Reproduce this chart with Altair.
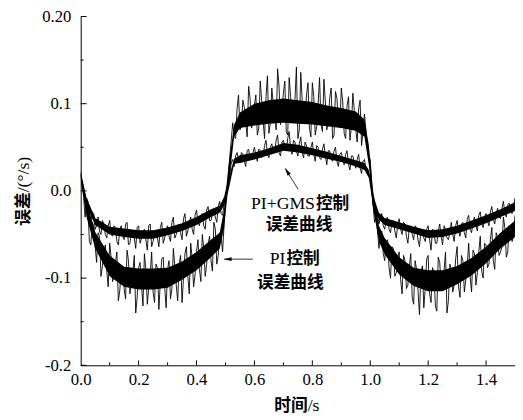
import altair as alt
import pandas as pd

# ---------------- data ----------------
time_s = [
    0.00, 0.01, 0.02, 0.03, 0.04, 0.05, 0.06, 0.07, 0.08, 0.09,
    0.10, 0.11, 0.12, 0.13, 0.14, 0.15, 0.16, 0.17, 0.18, 0.19,
    0.20, 0.21, 0.22, 0.23, 0.24, 0.25, 0.26, 0.27, 0.28, 0.29,
    0.30, 0.31, 0.32, 0.33, 0.34, 0.35, 0.36, 0.37, 0.38, 0.39,
    0.40, 0.41, 0.42, 0.43, 0.44, 0.45, 0.46, 0.47, 0.48, 0.49,
    0.50, 0.51, 0.52, 0.53, 0.54, 0.55, 0.56, 0.57, 0.58, 0.59,
    0.60, 0.61, 0.62, 0.63, 0.64, 0.65, 0.66, 0.67, 0.68, 0.69,
    0.70, 0.71, 0.72, 0.73, 0.74, 0.75, 0.76, 0.77, 0.78, 0.79,
    0.80, 0.81, 0.82, 0.83, 0.84, 0.85, 0.86, 0.87, 0.88, 0.89,
    0.90, 0.91, 0.92, 0.93, 0.94, 0.95, 0.96, 0.97, 0.98, 0.99,
    1.00, 1.01, 1.02, 1.03, 1.04, 1.05, 1.06, 1.07, 1.08, 1.09,
    1.10, 1.11, 1.12, 1.13, 1.14, 1.15, 1.16, 1.17, 1.18, 1.19,
    1.20, 1.21, 1.22, 1.23, 1.24, 1.25, 1.26, 1.27, 1.28, 1.29,
    1.30, 1.31, 1.32, 1.33, 1.34, 1.35, 1.36, 1.37, 1.38, 1.39,
    1.40, 1.41, 1.42, 1.43, 1.44, 1.45, 1.46, 1.47, 1.48, 1.49,
    1.50,
]

# PI control error (deg/s) at time_s
pi_err = [
    0.022, -0.006, -0.012, -0.058, -0.036, -0.064, -0.048, -0.098, -0.070, -0.092,
    -0.060, -0.104, -0.082, -0.126, -0.090, -0.112, -0.068, -0.118, -0.094, -0.140,
    -0.088, -0.108, -0.072, -0.130, -0.096, -0.116, -0.084, -0.136, -0.078, -0.110,
    -0.090, -0.124, -0.066, -0.108, -0.084, -0.128, -0.072, -0.098, -0.060, -0.110,
    -0.070, -0.090, -0.050, -0.098, -0.062, -0.080, -0.036, -0.084, -0.048, -0.070,
    -0.012, 0.014, 0.058, 0.062, 0.094, 0.070, 0.104, 0.078, 0.120, 0.072,
    0.098, 0.064, 0.126, 0.080, 0.108, 0.066, 0.118, 0.088, 0.140, 0.076,
    0.112, 0.068, 0.130, 0.084, 0.104, 0.060, 0.136, 0.080, 0.110, 0.072,
    0.124, 0.064, 0.100, 0.076, 0.128, 0.070, 0.106, 0.060, 0.114, 0.078,
    0.118, 0.066, 0.098, 0.058, 0.112, 0.070, 0.094, 0.052, 0.088, 0.050,
    0.036, -0.016, -0.028, -0.066, -0.046, -0.080, -0.056, -0.100, -0.066, -0.094,
    -0.070, -0.118, -0.080, -0.108, -0.072, -0.130, -0.090, -0.142, -0.086, -0.112,
    -0.074, -0.128, -0.094, -0.138, -0.082, -0.114, -0.070, -0.126, -0.090, -0.108,
    -0.064, -0.122, -0.080, -0.102, -0.060, -0.116, -0.072, -0.094, -0.052, -0.100,
    -0.062, -0.084, -0.042, -0.090, -0.054, -0.070, -0.030, -0.076, -0.040, -0.058,
    -0.028,
]

# PI+GMS control error (deg/s) at time_s
gms_err = [
    0.018, -0.002, -0.008, -0.030, -0.024, -0.044, -0.030, -0.050, -0.038, -0.054,
    -0.034, -0.052, -0.042, -0.062, -0.040, -0.056, -0.036, -0.060, -0.046, -0.066,
    -0.040, -0.054, -0.044, -0.068, -0.038, -0.058, -0.046, -0.064, -0.036, -0.054,
    -0.040, -0.058, -0.030, -0.050, -0.038, -0.056, -0.026, -0.046, -0.030, -0.050,
    -0.022, -0.040, -0.026, -0.044, -0.018, -0.034, -0.022, -0.036, -0.012, -0.028,
    -0.006, 0.006, 0.032, 0.028, 0.044, 0.032, 0.042, 0.028, 0.048, 0.036,
    0.050, 0.034, 0.046, 0.040, 0.058, 0.038, 0.054, 0.044, 0.064, 0.040,
    0.058, 0.046, 0.068, 0.042, 0.056, 0.040, 0.062, 0.038, 0.052, 0.040,
    0.056, 0.034, 0.050, 0.036, 0.054, 0.030, 0.046, 0.034, 0.050, 0.028,
    0.044, 0.030, 0.046, 0.024, 0.040, 0.026, 0.042, 0.020, 0.036, 0.022,
    0.014, -0.016, -0.020, -0.038, -0.026, -0.044, -0.030, -0.048, -0.034, -0.054,
    -0.032, -0.050, -0.038, -0.060, -0.040, -0.056, -0.042, -0.064, -0.044, -0.058,
    -0.040, -0.068, -0.046, -0.060, -0.038, -0.062, -0.044, -0.056, -0.036, -0.058,
    -0.034, -0.052, -0.036, -0.054, -0.028, -0.048, -0.030, -0.046, -0.024, -0.042,
    -0.026, -0.040, -0.018, -0.038, -0.020, -0.032, -0.012, -0.030, -0.014, -0.026,
    -0.008,
]

# in-between samples
time_b = [
    0.005, 0.015, 0.025, 0.035, 0.045, 0.055, 0.065, 0.075, 0.085, 0.095,
    0.105, 0.115, 0.125, 0.135, 0.145, 0.155, 0.165, 0.175, 0.185, 0.195,
    0.205, 0.215, 0.225, 0.235, 0.245, 0.255, 0.265, 0.275, 0.285, 0.295,
    0.305, 0.315, 0.325, 0.335, 0.345, 0.355, 0.365, 0.375, 0.385, 0.395,
    0.405, 0.415, 0.425, 0.435, 0.445, 0.455, 0.465, 0.475, 0.485, 0.495,
    0.505, 0.515, 0.525, 0.535, 0.545, 0.555, 0.565, 0.575, 0.585, 0.595,
    0.605, 0.615, 0.625, 0.635, 0.645, 0.655, 0.665, 0.675, 0.685, 0.695,
    0.705, 0.715, 0.725, 0.735, 0.745, 0.755, 0.765, 0.775, 0.785, 0.795,
    0.805, 0.815, 0.825, 0.835, 0.845, 0.855, 0.865, 0.875, 0.885, 0.895,
    0.905, 0.915, 0.925, 0.935, 0.945, 0.955, 0.965, 0.975, 0.985, 0.995,
    1.005, 1.015, 1.025, 1.035, 1.045, 1.055, 1.065, 1.075, 1.085, 1.095,
    1.105, 1.115, 1.125, 1.135, 1.145, 1.155, 1.165, 1.175, 1.185, 1.195,
    1.205, 1.215, 1.225, 1.235, 1.245, 1.255, 1.265, 1.275, 1.285, 1.295,
    1.305, 1.315, 1.325, 1.335, 1.345, 1.355, 1.365, 1.375, 1.385, 1.395,
    1.405, 1.415, 1.425, 1.435, 1.445, 1.455, 1.465, 1.475, 1.485, 1.495,
]
pi_err_b = [
    0.004, -0.030, -0.020, -0.062, -0.040, -0.082, -0.052, -0.086, -0.062, -0.110,
    -0.076, -0.098, -0.070, -0.114, -0.086, -0.124, -0.080, -0.106, -0.074, -0.122,
    -0.082, -0.132, -0.090, -0.112, -0.070, -0.128, -0.088, -0.104, -0.076, -0.134,
    -0.080, -0.112, -0.086, -0.126, -0.074, -0.100, -0.064, -0.118, -0.078, -0.096,
    -0.056, -0.104, -0.066, -0.084, -0.052, -0.092, -0.044, -0.074, -0.052, -0.040,
    0.000, 0.040, 0.078, 0.060, 0.110, 0.074, 0.096, 0.062, 0.106, 0.080,
    0.110, 0.072, 0.104, 0.060, 0.132, 0.078, 0.100, 0.070, 0.120, 0.090,
    0.126, 0.064, 0.108, 0.078, 0.142, 0.070, 0.104, 0.086, 0.124, 0.062,
    0.108, 0.074, 0.130, 0.068, 0.102, 0.080, 0.118, 0.064, 0.106, 0.072,
    0.102, 0.060, 0.108, 0.074, 0.092, 0.056, 0.104, 0.068, 0.070, 0.040,
    0.006, -0.036, -0.044, -0.050, -0.072, -0.058, -0.088, -0.064, -0.098, -0.076,
    -0.102, -0.074, -0.112, -0.086, -0.122, -0.080, -0.114, -0.094, -0.134, -0.078,
    -0.118, -0.088, -0.132, -0.076, -0.110, -0.092, -0.140, -0.084, -0.116, -0.078,
    -0.110, -0.074, -0.116, -0.086, -0.098, -0.068, -0.108, -0.070, -0.092, -0.060,
    -0.088, -0.056, -0.080, -0.048, -0.074, -0.064, -0.042, -0.070, -0.046, -0.052,
]
gms_err_b = [
    0.008, -0.014, -0.012, -0.036, -0.026, -0.040, -0.046, -0.034, -0.050, -0.040,
    -0.050, -0.040, -0.058, -0.044, -0.052, -0.038, -0.062, -0.046, -0.054, -0.042,
    -0.060, -0.046, -0.056, -0.040, -0.064, -0.048, -0.054, -0.042, -0.060, -0.044,
    -0.052, -0.036, -0.054, -0.040, -0.048, -0.032, -0.052, -0.036, -0.044, -0.028,
    -0.036, -0.030, -0.040, -0.022, -0.034, -0.026, -0.030, -0.018, -0.026, -0.016,
    0.002, 0.020, 0.036, 0.040, 0.036, 0.044, 0.034, 0.046, 0.036, 0.044,
    0.040, 0.048, 0.038, 0.052, 0.042, 0.050, 0.046, 0.058, 0.044, 0.056,
    0.050, 0.060, 0.048, 0.058, 0.046, 0.054, 0.044, 0.056, 0.040, 0.050,
    0.042, 0.052, 0.038, 0.048, 0.040, 0.046, 0.036, 0.046, 0.034, 0.042,
    0.036, 0.042, 0.030, 0.040, 0.032, 0.036, 0.026, 0.034, 0.026, 0.020,
    0.000, -0.026, -0.028, -0.030, -0.040, -0.032, -0.044, -0.036, -0.046, -0.038,
    -0.044, -0.036, -0.052, -0.042, -0.050, -0.040, -0.056, -0.046, -0.054, -0.044,
    -0.056, -0.044, -0.060, -0.046, -0.052, -0.040, -0.054, -0.048, -0.050, -0.040,
    -0.046, -0.038, -0.048, -0.032, -0.044, -0.036, -0.040, -0.028, -0.038, -0.030,
    -0.034, -0.024, -0.032, -0.026, -0.030, -0.020, -0.026, -0.016, -0.024, -0.018,
]

# dense core of each noisy trace (lower / upper edge)
band_t = [0.0, 0.02, 0.05, 0.1, 0.15, 0.2, 0.25, 0.3, 0.35, 0.4, 0.45, 0.48, 0.495,
          0.51, 0.53, 0.55, 0.6, 0.65, 0.7, 0.75, 0.8, 0.85, 0.9, 0.95, 0.98, 0.995,
          1.01, 1.03, 1.05, 1.1, 1.15, 1.2, 1.25, 1.3, 1.35, 1.4, 1.45, 1.5]
pi_lo = [0.015, -0.03, -0.066, -0.098, -0.110, -0.113, -0.113, -0.111, -0.102, -0.091,
         -0.076, -0.066, -0.043, 0.005, 0.062, 0.072, 0.075, 0.077, 0.078, 0.077, 0.076,
         0.074, 0.072, 0.069, 0.062, 0.030, -0.020, -0.058, -0.073, -0.096, -0.109,
         -0.115, -0.115, -0.107, -0.097, -0.083, -0.066, -0.053]
pi_hi = [0.022, -0.012, -0.047, -0.074, -0.087, -0.089, -0.089, -0.088, -0.081, -0.070,
         -0.056, -0.048, -0.022, 0.028, 0.076, 0.090, 0.100, 0.104, 0.106, 0.104, 0.102,
         0.098, 0.095, 0.091, 0.082, 0.053, 0.000, -0.040, -0.054, -0.076, -0.088,
         -0.091, -0.091, -0.086, -0.077, -0.064, -0.048, -0.034]
gms_lo = [0.015, -0.018, -0.039, -0.050, -0.053, -0.055, -0.055, -0.051, -0.046, -0.039,
          -0.030, -0.025, -0.017, 0.000, 0.031, 0.032, 0.036, 0.041, 0.046, 0.044, 0.041,
          0.037, 0.033, 0.028, 0.024, 0.015, -0.017, -0.033, -0.039, -0.044, -0.049,
          -0.054, -0.053, -0.049, -0.043, -0.037, -0.030, -0.023]
gms_hi = [0.022, -0.008, -0.031, -0.041, -0.043, -0.045, -0.045, -0.042, -0.037, -0.030,
          -0.021, -0.017, -0.007, 0.014, 0.037, 0.041, 0.044, 0.049, 0.055, 0.053, 0.049,
          0.045, 0.040, 0.035, 0.032, 0.024, -0.005, -0.025, -0.031, -0.036, -0.041,
          -0.045, -0.044, -0.040, -0.034, -0.028, -0.021, -0.013]

x_major = [0.0, 0.2, 0.4, 0.6, 0.8, 1.0, 1.2, 1.4]
x_minor = [0.1, 0.3, 0.5, 0.7, 0.9, 1.1, 1.3]
y_major = [-0.2, -0.1, 0.0, 0.1, 0.2]
y_minor = [-0.15, -0.05, 0.05, 0.15]

# annotation anchors (data units)
gms_label_pos = (0.809, -0.021)
gms_label2_pos = (0.754, -0.045)
gms_arrow = (0.751, 0.0017, 0.707, 0.0254)
gms_head = (0.7126, 0.0225)
pi_label_pos = (0.707, -0.084)
pi_label2_pos = (0.724, -0.111)
pi_arrow = (0.595, -0.0783, 0.496, -0.0783)
pi_head = (0.507, -0.0783)

# ---------------- chart ----------------
W, H = 442, 355
SERIF = "Liberation Serif, Times New Roman, serif"
CJK = "Noto Sans CJK SC"

xs = alt.Scale(domain=[0, 1.5], nice=False, zero=False)
ys = alt.Scale(domain=[-0.2, 0.2], nice=False, zero=False)

x_axis = alt.Axis(values=x_major, format=".1f", ticks=False, grid=False, title=None,
                  labelFont=SERIF, labelFontSize=17, labelColor="black",
                  labelPadding=7, domainColor="black", domainWidth=1,
                  labelFlush=False, labelOverlap=False)
y_axis = alt.Axis(values=y_major, ticks=False, grid=False, title=None,
                  labelExpr="datum.value > 0.15 ? '0.20' : (datum.value < -0.001 ? '-' + format(-datum.value, '.1f') : format(datum.value, '.1f'))",
                  labelFont=SERIF, labelFontSize=17, labelColor="black",
                  labelPadding=10, domainColor="black", domainWidth=1,
                  labelFlush=False, labelOverlap=False)


def X(field):
    return alt.X(field, type="quantitative", scale=xs, axis=x_axis)


def Y(field):
    return alt.Y(field, type="quantitative", scale=ys, axis=y_axis)


df_lines = pd.concat([
    pd.DataFrame({"t": time_s, "pi": pi_err, "gms": gms_err}),
    pd.DataFrame({"t": time_b, "pi": pi_err_b, "gms": gms_err_b}),
]).sort_values("t").reset_index(drop=True)
df_band = pd.DataFrame({"t": band_t, "pi_lo": pi_lo, "pi_hi": pi_hi,
                        "gms_lo": gms_lo, "gms_hi": gms_hi})

band_pi = alt.Chart(df_band).mark_area(color="black", opacity=1, clip=True).encode(
    x=X("t"), y=Y("pi_lo"), y2="pi_hi:Q")
band_gms = alt.Chart(df_band).mark_area(color="black", opacity=1, clip=True).encode(
    x=X("t"), y=Y("gms_lo"), y2="gms_hi:Q")
line_pi = alt.Chart(df_lines).mark_line(color="black", strokeWidth=0.9, clip=True).encode(
    x=X("t"), y=Y("pi"), order="t:Q")
line_gms = alt.Chart(df_lines).mark_line(color="black", strokeWidth=0.9, clip=True).encode(
    x=X("t"), y=Y("gms"), order="t:Q")


# inward ticks
def yticks(vals, length):
    return alt.Chart(pd.DataFrame({"v": vals})).mark_rule(color="black", strokeWidth=1).encode(
        y=Y("v"), x=alt.value(0), x2=alt.value(length))


def xticks(vals, length):
    return alt.Chart(pd.DataFrame({"v": vals})).mark_rule(color="black", strokeWidth=1).encode(
        x=X("v"), y=alt.value(H), y2=alt.value(H - length))


ticks = [yticks(y_major, 6), yticks(y_minor, 3), xticks(x_major[1:], 5), xticks(x_minor, 3)]


def text_at(txt, pos, align, font, weight, size=18, dx=0):
    return alt.Chart(pd.DataFrame({"x": [pos[0]], "y": [pos[1]], "s": [txt]})).mark_text(
        align=align, baseline="alphabetic", font=font, fontWeight=weight,
        fontSize=size, color="black", dx=dx).encode(x=X("x"), y=Y("y"), text="s:N")


texts = [
    text_at("PI+GMS", gms_label_pos, "right", SERIF, "normal"),
    text_at("控制", gms_label_pos, "left", CJK, "bold", 17, dx=1),
    text_at("误差曲线", gms_label2_pos, "center", CJK, "bold", 17),
    text_at("PI", pi_label_pos, "right", SERIF, "normal"),
    text_at("控制", pi_label_pos, "left", CJK, "bold", 17, dx=1),
    text_at("误差曲线", pi_label2_pos, "center", CJK, "bold", 17),
]

df_arrows = pd.DataFrame({
    "x": [gms_arrow[0], pi_arrow[0]], "y": [gms_arrow[1], pi_arrow[1]],
    "x2": [gms_arrow[2], pi_arrow[2]], "y2": [gms_arrow[3], pi_arrow[3]],
})
shafts = alt.Chart(df_arrows).mark_rule(color="black", strokeWidth=0.8).encode(
    x=X("x"), y=Y("y"), x2="x2:Q", y2="y2:Q")

head_shape = "M0,-1L0.45,1L-0.45,1Z"
head_gms = alt.Chart(pd.DataFrame({"x": [gms_head[0]], "y": [gms_head[1]]})).mark_point(
    shape=head_shape, filled=True, color="black", size=70, angle=328, opacity=1).encode(
    x=X("x"), y=Y("y"))
head_pi = alt.Chart(pd.DataFrame({"x": [pi_head[0]], "y": [pi_head[1]]})).mark_point(
    shape=head_shape, filled=True, color="black", size=70, angle=270, opacity=1).encode(
    x=X("x"), y=Y("y"))


# axis titles (mixed fonts)
def ptext(txt, x, y, align, font, weight, size, angle=0, baseline="alphabetic"):
    return alt.Chart(pd.DataFrame({"s": [txt]})).mark_text(
        align=align, baseline=baseline, font=font, fontWeight=weight, fontSize=size,
        angle=angle, color="black").encode(text="s:N", x=alt.value(x), y=alt.value(y))


titles = [
    ptext("时间", 231, 402, "right", CJK, "bold", 17),
    ptext("/s", 231, 402, "left", SERIF, "normal", 18),
    ptext("误差", -58, 179, "right", CJK, "bold", 17, angle=270, baseline="middle"),
    ptext("/(°/s)", -58, 179, "left", SERIF, "normal", 18, angle=270, baseline="middle"),
]

chart = alt.layer(
    band_pi, band_gms, line_pi, line_gms, *ticks, *texts, shafts, head_gms, head_pi, *titles
).properties(
    width=W, height=H,
    autosize=alt.AutoSizeParams(type="none"),
    padding={"left": 74, "top": 5, "right": 0, "bottom": 50},
    background="white",
).configure_view(stroke=None)

chart.save("out.html", embed_options={"renderer": "svg", "actions": False})
